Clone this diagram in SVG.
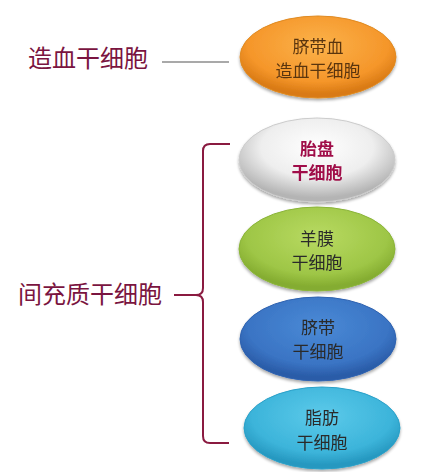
<svg xmlns="http://www.w3.org/2000/svg" width="424" height="472" viewBox="0 0 424 472">
<defs>
<radialGradient id="gOrange" cx="50%" cy="35%" r="60%">
<stop offset="0" stop-color="#fbb24a"/><stop offset="0.75" stop-color="#f5962a"/><stop offset="1" stop-color="#d97a14"/>
</radialGradient>
<radialGradient id="gGray" cx="50%" cy="35%" r="60%">
<stop offset="0" stop-color="#ffffff"/><stop offset="0.6" stop-color="#eeeeee"/><stop offset="1" stop-color="#b4b4b4"/>
</radialGradient>
<radialGradient id="gGreen" cx="50%" cy="35%" r="60%">
<stop offset="0" stop-color="#b8da62"/><stop offset="0.75" stop-color="#9ec646"/><stop offset="1" stop-color="#84ac30"/>
</radialGradient>
<radialGradient id="gBlue" cx="50%" cy="35%" r="60%">
<stop offset="0" stop-color="#4a8ad6"/><stop offset="0.75" stop-color="#3a74c4"/><stop offset="1" stop-color="#2a5ca8"/>
</radialGradient>
<radialGradient id="gCyan" cx="50%" cy="35%" r="60%">
<stop offset="0" stop-color="#5ccaea"/><stop offset="0.75" stop-color="#3cb4da"/><stop offset="1" stop-color="#2698c0"/>
</radialGradient>
<filter id="sh" x="-10%" y="-10%" width="120%" height="130%">
<feGaussianBlur in="SourceAlpha" stdDeviation="1.5"/><feOffset dy="2"/><feComponentTransfer><feFuncA type="linear" slope="0.35"/></feComponentTransfer>
<feMerge><feMergeNode/><feMergeNode in="SourceGraphic"/></feMerge>
</filter>
<style>
.big{font-family:"Noto Sans CJK SC","Noto Sans",sans-serif;font-size:24px;fill:#7a1440}
.in{font-family:"Noto Sans CJK SC","Noto Sans",sans-serif;font-size:17px;text-anchor:middle;fill:#2a2a2a}
.conn{stroke:#8a1a40;stroke-width:2;fill:none}
</style>
</defs>
<rect width="424" height="472" fill="#ffffff"/>
<g id="label-hsc"><text class="big" x="28" y="67">造血干细胞</text></g>
<g id="label-msc"><text class="big" x="18" y="303">间充质干细胞</text></g>
<g id="connectors">
<line x1="162" y1="62" x2="229" y2="62" stroke="#555" stroke-width="1.2"/>
<path class="conn" d="M230,144 H210 Q203,144 203,151 V288 Q203,295 196,295 H174 M196,295 Q203,295 203,302 V436 Q203,443 210,443 H229"/>
</g>
<g id="n1" filter="url(#sh)"><ellipse cx="318" cy="57" rx="78" ry="41" fill="url(#gOrange)" stroke="#e08a20" stroke-width="1"/>
<text class="in" x="318" y="53" style="fill:#5a3510">脐带血</text><text class="in" x="318" y="77" style="fill:#5a3510">造血干细胞</text></g>
<g id="n2" filter="url(#sh)"><ellipse cx="317" cy="160" rx="78" ry="42" fill="url(#gGray)" stroke="#cccccc" stroke-width="1"/>
<text class="in" x="317" y="155" style="fill:#a01048;font-weight:bold">胎盘</text><text class="in" x="317" y="179" style="fill:#a01048;font-weight:bold">干细胞</text></g>
<g id="n3" filter="url(#sh)"><ellipse cx="317" cy="249" rx="78" ry="42" fill="url(#gGreen)" stroke="#8ab438" stroke-width="1"/>
<text class="in" x="317" y="245">羊膜</text><text class="in" x="317" y="269">干细胞</text></g>
<g id="n4" filter="url(#sh)"><ellipse cx="318" cy="339" rx="78" ry="42" fill="url(#gBlue)" stroke="#2e62b0" stroke-width="1"/>
<text class="in" x="318" y="334">脐带</text><text class="in" x="318" y="358">干细胞</text></g>
<g id="n5" filter="url(#sh)"><ellipse cx="322" cy="428" rx="78" ry="41" fill="url(#gCyan)" stroke="#2aa0c8" stroke-width="1"/>
<text class="in" x="322" y="424">脂肪</text><text class="in" x="322" y="449">干细胞</text></g>
</svg>
